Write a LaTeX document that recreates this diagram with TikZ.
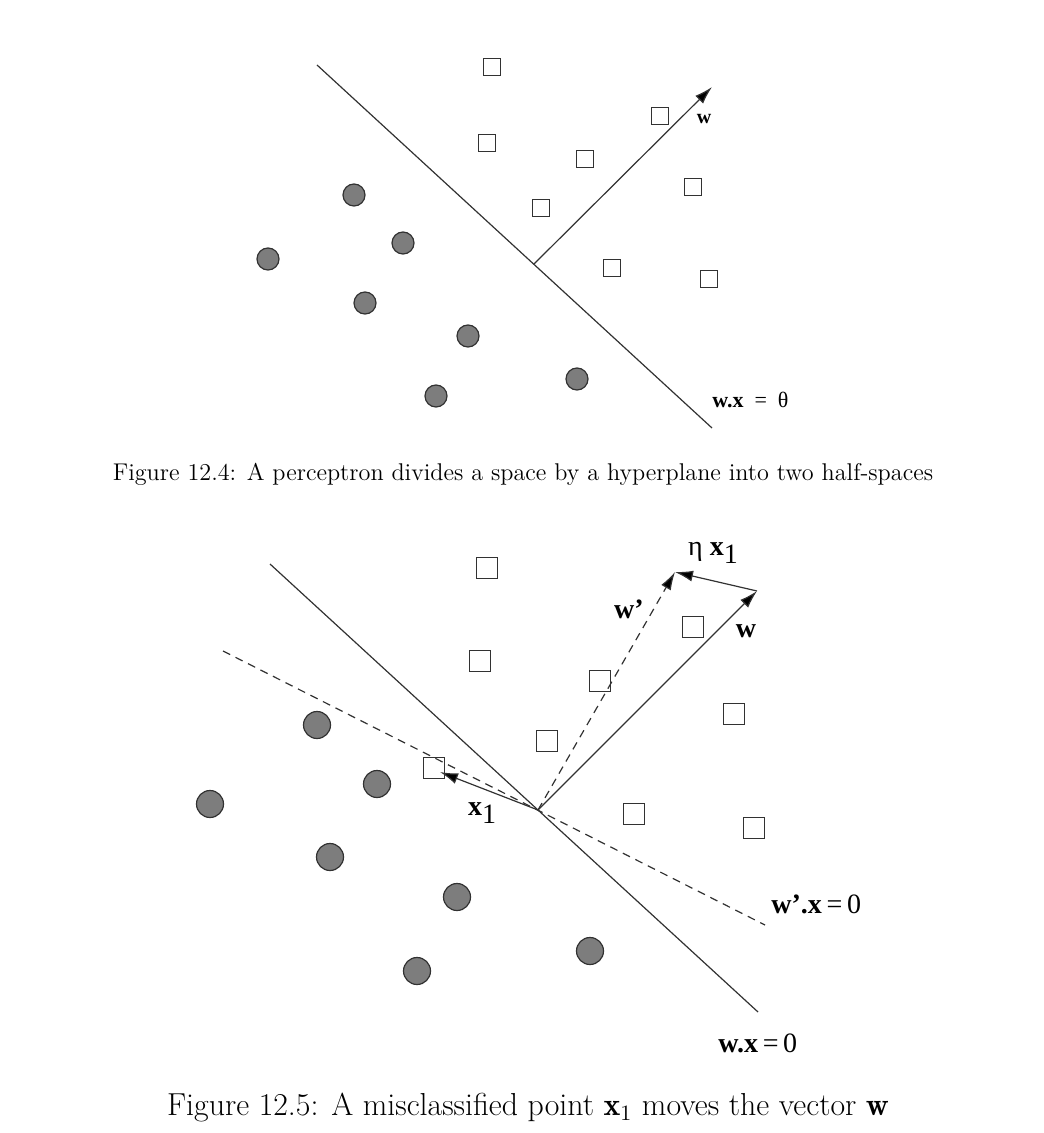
\documentclass[tikz,border=0pt]{standalone}
\usepackage{fontspec}
\newfontfamily\timesfont{Liberation Serif}
\usetikzlibrary{arrows.meta}
\definecolor{ink}{RGB}{50,50,50}
\definecolor{dot}{RGB}{125,125,125}

\begin{document}
\begin{tikzpicture}[x=0.5pt, y=-0.5pt,
  sqa/.style={draw=ink, line width=0.6pt, minimum size=8.5pt, inner sep=0pt},
  sqb/.style={draw=ink, line width=0.6pt, minimum size=10.5pt, inner sep=0pt},
  dota/.style={circle, draw=ink, fill=dot, line width=0.6pt, minimum size=11pt, inner sep=0pt},
  dotb/.style={circle, draw=ink, fill=dot, line width=0.6pt, minimum size=13.5pt, inner sep=0pt},
  lbla/.style={font=\timesfont\fontsize{10}{12}\selectfont, inner sep=0pt},
  lblb/.style={font=\timesfont\fontsize{14}{16}\selectfont, inner sep=0pt},
  tip/.style={-{Latex[length=9pt,width=5.5pt]}},
  hyp/.style={draw=ink, line width=0.6pt}]
\useasboundingbox (0,0) rectangle (1043,1133);

% Figure 12.4
\coordinate (h1a) at (317,65);
\coordinate (h1b) at (712,428);
\coordinate (o1)  at (534,264);
\coordinate (w1)  at (712,87);
\node[sqa] (a1) at (492,67)  {};
\node[sqa] (a2) at (487,143) {};
\node[sqa] (a3) at (585,159) {};
\node[sqa] (a4) at (660,116) {};
\node[sqa] (a5) at (693,187) {};
\node[sqa] (a6) at (541,208) {};
\node[sqa] (a7) at (612,268) {};
\node[sqa] (a8) at (709,279) {};
\node[dota] (b1) at (354,195) {};
\node[dota] (b2) at (403,243) {};
\node[dota] (b3) at (268,259) {};
\node[dota] (b4) at (365,303) {};
\node[dota] (b5) at (468,336) {};
\node[dota] (b6) at (436,396) {};
\node[dota] (b7) at (577,379) {};
\node[lbla] (lw1) at (704,119) {\textbf{w}};
\node[lbla, anchor=west, font=\timesfont\fontsize{11}{13}\selectfont] (lh1) at (712,400) {\textbf{w.x}\ \ =\ \ θ};
\path[hyp] (h1a) -- (h1b);
\path[hyp] (o1) edge[tip] (w1);
\node[font=\fontsize{12.1}{14}\selectfont] (cap1) at (523,474)
  {Figure 12.4: A perceptron divides a space by a hyperplane into two half-spaces};

% Figure 12.5
\coordinate (h2a) at (270,564);
\coordinate (h2b) at (758,1012);
\coordinate (d2a) at (223,651);
\coordinate (d2b) at (765,925);
\coordinate (o2)  at (538,810);
\coordinate (w2)  at (757,591);
\coordinate (wp2) at (675,572);
\coordinate (x1)  at (440,772);
\node[sqb] (c1) at (487,568) {};
\node[sqb] (c2) at (480,661) {};
\node[sqb] (c3) at (547,741) {};
\node[sqb] (c4) at (434,768) {};
\node[sqb] (c5) at (600,681) {};
\node[sqb] (c6) at (693,627) {};
\node[sqb] (c7) at (734,714) {};
\node[sqb] (c8) at (634,814) {};
\node[sqb] (c9) at (754,828) {};
\node[dotb] (e1) at (317,725) {};
\node[dotb] (e2) at (377,784) {};
\node[dotb] (e3) at (210,804) {};
\node[dotb] (e4) at (330,857) {};
\node[dotb] (e5) at (457,897) {};
\node[dotb] (e6) at (417,971) {};
\node[dotb] (e7) at (590,951) {};
\path[hyp] (h2a) -- (h2b);
\path[hyp, dash pattern=on 4pt off 3pt] (d2a) -- (d2b);
\path[hyp]
    (o2) edge[tip] (w2)
    (o2) edge[tip] (x1)
    (w2) edge[tip] (wp2)
    (o2) edge[tip, dash pattern=on 4pt off 3pt] (wp2);
\node[lblb] (lw2)  at (746,631) {\textbf{w}};
\node[lblb] (lwp2) at (629,609) {\textbf{w’}};
\node[lblb] (leta) at (713,553) {η \textbf{x}\raisebox{-0.6ex}{1}};
\node[lblb] (lx1)  at (482,813) {\textbf{x}\raisebox{-0.6ex}{1}};
\node[lblb, anchor=west] (lhp2) at (771,904) {\textbf{w’.x}\,=\,0};
\node[lblb, anchor=west] (lh2)  at (718,1043) {\textbf{w.x}\,=\,0};
\node[font=\fontsize{15.9}{18}\selectfont] (cap2) at (528,1107)
  {Figure 12.5: A misclassified point $\mathbf{x}_1$ moves the vector $\mathbf{w}$};
\end{tikzpicture}
\end{document}
